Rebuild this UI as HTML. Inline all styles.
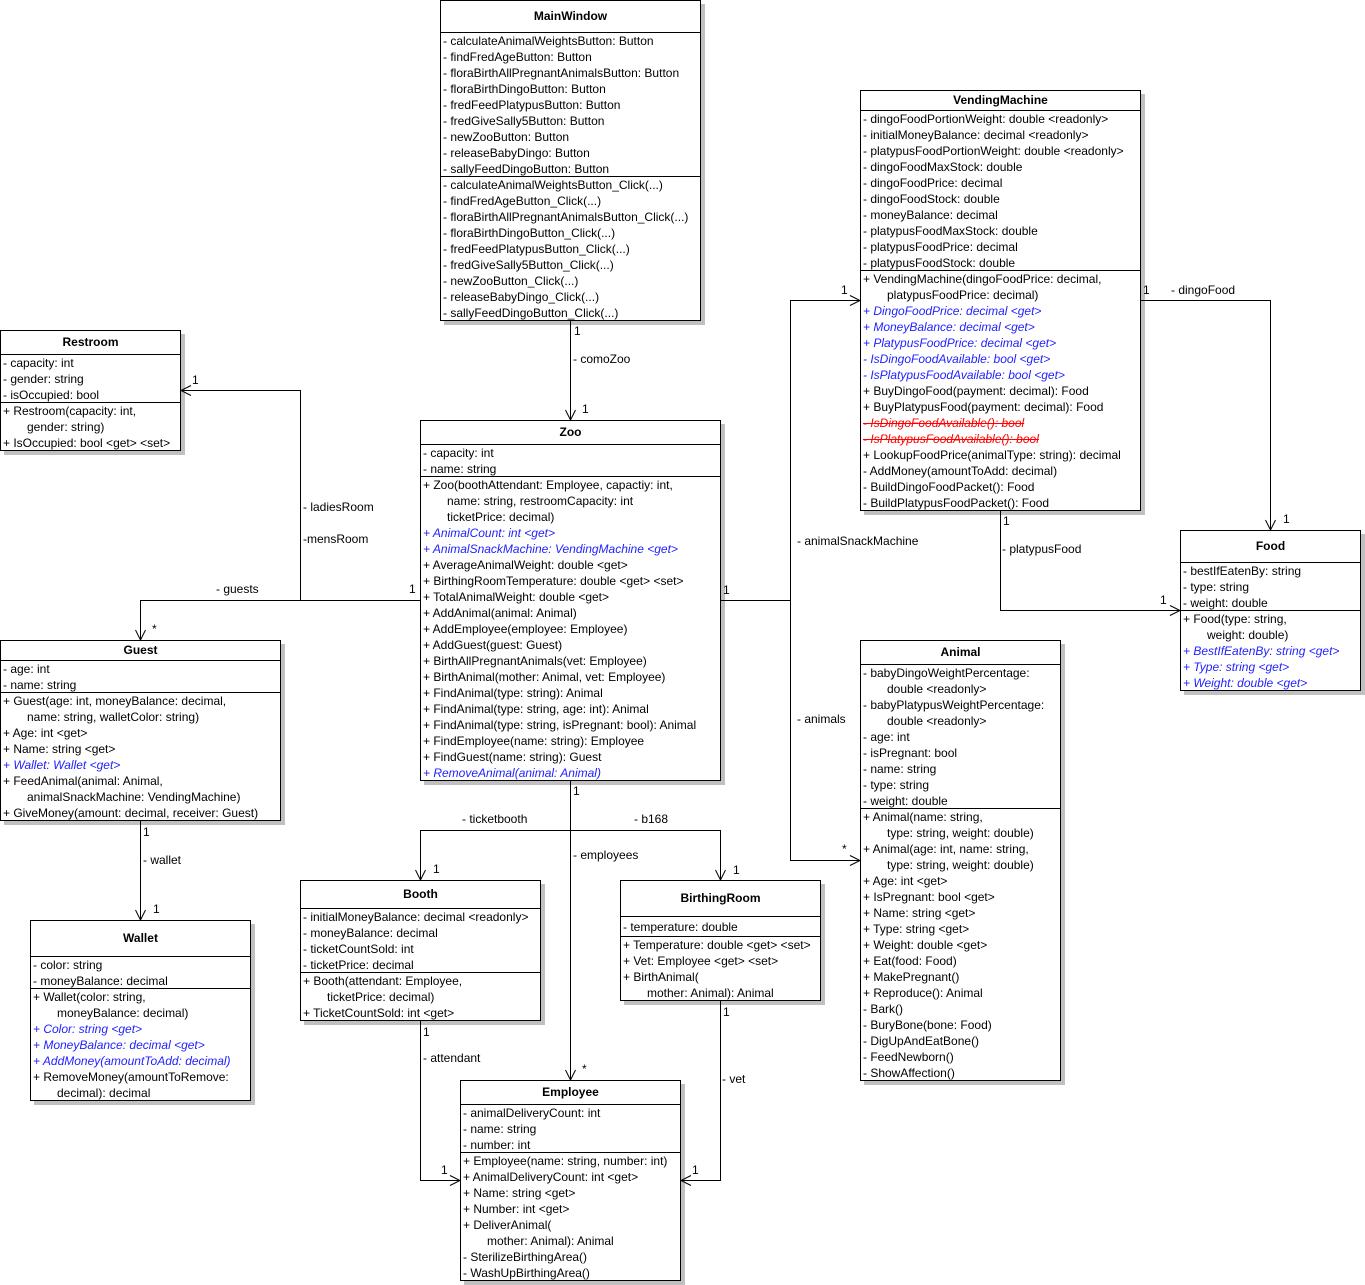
<!DOCTYPE html>
<html><head><meta charset="utf-8"><style>
html,body{margin:0;padding:0;background:#fff;}
body{width:1365px;height:1285px;position:relative;overflow:hidden;font:12px "Liberation Sans",Arial,sans-serif;color:#000;}
.b{position:absolute;background:#fff;border:1px solid #000;box-sizing:border-box;box-shadow:4px 4px 0 #c0c0c0;}
.h{font-weight:bold;text-align:center;box-sizing:border-box;}
.c{border-top:1px solid #000;box-sizing:border-box;padding-left:2px;overflow:hidden;}
.c div{height:16px;line-height:16px;white-space:nowrap;}
.c div.i{padding-left:24px;}
.bl{color:#1f1fff;font-style:italic;}
.st{color:#ff0000;font-style:italic;text-decoration:line-through;}
.l{position:absolute;line-height:16px;white-space:nowrap;}
svg{position:absolute;left:0;top:0;}
</style></head><body>

<!-- MainWindow -->
<div class="b" style="left:440px;top:0;width:261px;height:321px;">
<div class="h" style="height:31px;line-height:31px;">MainWindow</div>
<div class="c" style="height:144px;">
<div>- calculateAnimalWeightsButton: Button</div>
<div>- findFredAgeButton: Button</div>
<div>- floraBirthAllPregnantAnimalsButton: Button</div>
<div>- floraBirthDingoButton: Button</div>
<div>- fredFeedPlatypusButton: Button</div>
<div>- fredGiveSally5Button: Button</div>
<div>- newZooButton: Button</div>
<div>- releaseBabyDingo: Button</div>
<div>- sallyFeedDingoButton: Button</div>
</div>
<div class="c" style="height:144px;">
<div>- calculateAnimalWeightsButton_Click(...)</div>
<div>- findFredAgeButton_Click(...)</div>
<div>- floraBirthAllPregnantAnimalsButton_Click(...)</div>
<div>- floraBirthDingoButton_Click(...)</div>
<div>- fredFeedPlatypusButton_Click(...)</div>
<div>- fredGiveSally5Button_Click(...)</div>
<div>- newZooButton_Click(...)</div>
<div>- releaseBabyDingo_Click(...)</div>
<div>- sallyFeedDingoButton_Click(...)</div>
</div>
</div>

<!-- Restroom -->
<div class="b" style="left:0;top:330px;width:181px;height:121px;">
<div class="h" style="height:23px;line-height:23px;">Restroom</div>
<div class="c" style="height:48px;">
<div>- capacity: int</div>
<div>- gender: string</div>
<div>- isOccupied: bool</div>
</div>
<div class="c" style="height:48px;">
<div>+ Restroom(capacity: int,</div>
<div class="i">gender: string)</div>
<div>+ IsOccupied: bool &lt;get&gt; &lt;set&gt;</div>
</div>
</div>

<!-- Zoo -->
<div class="b" style="left:420px;top:420px;width:301px;height:361px;">
<div class="h" style="height:23px;line-height:23px;">Zoo</div>
<div class="c" style="height:32px;">
<div>- capacity: int</div>
<div>- name: string</div>
</div>
<div class="c" style="height:304px;">
<div>+ Zoo(boothAttendant: Employee, capactiy: int,</div>
<div class="i">name: string, restroomCapacity: int</div>
<div class="i">ticketPrice: decimal)</div>
<div class="bl">+ AnimalCount: int &lt;get&gt;</div>
<div class="bl">+ AnimalSnackMachine: VendingMachine &lt;get&gt;</div>
<div>+ AverageAnimalWeight: double &lt;get&gt;</div>
<div>+ BirthingRoomTemperature: double &lt;get&gt; &lt;set&gt;</div>
<div>+ TotalAnimalWeight: double &lt;get&gt;</div>
<div>+ AddAnimal(animal: Animal)</div>
<div>+ AddEmployee(employee: Employee)</div>
<div>+ AddGuest(guest: Guest)</div>
<div>+ BirthAllPregnantAnimals(vet: Employee)</div>
<div>+ BirthAnimal(mother: Animal, vet: Employee)</div>
<div>+ FindAnimal(type: string): Animal</div>
<div>+ FindAnimal(type: string, age: int): Animal</div>
<div>+ FindAnimal(type: string, isPregnant: bool): Animal</div>
<div>+ FindEmployee(name: string): Employee</div>
<div>+ FindGuest(name: string): Guest</div>
<div class="bl">+ RemoveAnimal(animal: Animal)</div>
</div>
</div>

<!-- VendingMachine -->
<div class="b" style="left:860px;top:90px;width:281px;height:421px;">
<div class="h" style="height:19px;line-height:19px;">VendingMachine</div>
<div class="c" style="height:160px;">
<div>- dingoFoodPortionWeight: double &lt;readonly&gt;</div>
<div>- initialMoneyBalance: decimal &lt;readonly&gt;</div>
<div>- platypusFoodPortionWeight: double &lt;readonly&gt;</div>
<div>- dingoFoodMaxStock: double</div>
<div>- dingoFoodPrice: decimal</div>
<div>- dingoFoodStock: double</div>
<div>- moneyBalance: decimal</div>
<div>- platypusFoodMaxStock: double</div>
<div>- platypusFoodPrice: decimal</div>
<div>- platypusFoodStock: double</div>
</div>
<div class="c" style="height:240px;">
<div>+ VendingMachine(dingoFoodPrice: decimal,</div>
<div class="i">platypusFoodPrice: decimal)</div>
<div class="bl">+ DingoFoodPrice: decimal &lt;get&gt;</div>
<div class="bl">+ MoneyBalance: decimal &lt;get&gt;</div>
<div class="bl">+ PlatypusFoodPrice: decimal &lt;get&gt;</div>
<div class="bl">- IsDingoFoodAvailable: bool &lt;get&gt;</div>
<div class="bl">- IsPlatypusFoodAvailable: bool &lt;get&gt;</div>
<div>+ BuyDingoFood(payment: decimal): Food</div>
<div>+ BuyPlatypusFood(payment: decimal): Food</div>
<div class="st">- IsDingoFoodAvailable(): bool</div>
<div class="st">- IsPlatypusFoodAvailable(): bool</div>
<div>+ LookupFoodPrice(animalType: string): decimal</div>
<div>- AddMoney(amountToAdd: decimal)</div>
<div>- BuildDingoFoodPacket(): Food</div>
<div>- BuildPlatypusFoodPacket(): Food</div>
</div>
</div>

<!-- Food -->
<div class="b" style="left:1180px;top:530px;width:181px;height:161px;">
<div class="h" style="height:31px;line-height:31px;">Food</div>
<div class="c" style="height:48px;">
<div>- bestIfEatenBy: string</div>
<div>- type: string</div>
<div>- weight: double</div>
</div>
<div class="c" style="height:80px;">
<div>+ Food(type: string,</div>
<div class="i">weight: double)</div>
<div class="bl">+ BestIfEatenBy: string &lt;get&gt;</div>
<div class="bl">+ Type: string &lt;get&gt;</div>
<div class="bl">+ Weight: double &lt;get&gt;</div>
</div>
</div>

<!-- Guest -->
<div class="b" style="left:0;top:640px;width:281px;height:181px;">
<div class="h" style="height:19px;line-height:19px;">Guest</div>
<div class="c" style="height:32px;">
<div>- age: int</div>
<div>- name: string</div>
</div>
<div class="c" style="height:128px;">
<div>+ Guest(age: int, moneyBalance: decimal,</div>
<div class="i">name: string, walletColor: string)</div>
<div>+ Age: int &lt;get&gt;</div>
<div>+ Name: string &lt;get&gt;</div>
<div class="bl">+ Wallet: Wallet &lt;get&gt;</div>
<div>+ FeedAnimal(animal: Animal,</div>
<div class="i">animalSnackMachine: VendingMachine)</div>
<div>+ GiveMoney(amount: decimal, receiver: Guest)</div>
</div>
</div>

<!-- Wallet -->
<div class="b" style="left:30px;top:920px;width:221px;height:181px;">
<div class="h" style="height:35px;line-height:35px;">Wallet</div>
<div class="c" style="height:32px;">
<div>- color: string</div>
<div>- moneyBalance: decimal</div>
</div>
<div class="c" style="height:112px;">
<div>+ Wallet(color: string,</div>
<div class="i">moneyBalance: decimal)</div>
<div class="bl">+ Color: string &lt;get&gt;</div>
<div class="bl">+ MoneyBalance: decimal &lt;get&gt;</div>
<div class="bl">+ AddMoney(amountToAdd: decimal)</div>
<div>+ RemoveMoney(amountToRemove:</div>
<div class="i">decimal): decimal</div>
</div>
</div>

<!-- Booth -->
<div class="b" style="left:300px;top:880px;width:241px;height:141px;">
<div class="h" style="height:27px;line-height:27px;">Booth</div>
<div class="c" style="height:64px;">
<div>- initialMoneyBalance: decimal &lt;readonly&gt;</div>
<div>- moneyBalance: decimal</div>
<div>- ticketCountSold: int</div>
<div>- ticketPrice: decimal</div>
</div>
<div class="c" style="height:48px;">
<div>+ Booth(attendant: Employee,</div>
<div class="i">ticketPrice: decimal)</div>
<div>+ TicketCountSold: int &lt;get&gt;</div>
</div>
</div>

<!-- BirthingRoom -->
<div class="b" style="left:620px;top:880px;width:201px;height:121px;">
<div class="h" style="height:35px;line-height:35px;">BirthingRoom</div>
<div class="c" style="height:20px;padding-top:2px;">
<div>- temperature: double</div>
</div>
<div class="c" style="height:64px;">
<div>+ Temperature: double &lt;get&gt; &lt;set&gt;</div>
<div>+ Vet: Employee &lt;get&gt; &lt;set&gt;</div>
<div>+ BirthAnimal(</div>
<div class="i">mother: Animal): Animal</div>
</div>
</div>

<!-- Animal -->
<div class="b" style="left:860px;top:640px;width:201px;height:441px;">
<div class="h" style="height:23px;line-height:23px;">Animal</div>
<div class="c" style="height:144px;">
<div>- babyDingoWeightPercentage:</div>
<div class="i">double &lt;readonly&gt;</div>
<div>- babyPlatypusWeightPercentage:</div>
<div class="i">double &lt;readonly&gt;</div>
<div>- age: int</div>
<div>- isPregnant: bool</div>
<div>- name: string</div>
<div>- type: string</div>
<div>- weight: double</div>
</div>
<div class="c" style="height:272px;">
<div>+ Animal(name: string,</div>
<div class="i">type: string, weight: double)</div>
<div>+ Animal(age: int, name: string,</div>
<div class="i">type: string, weight: double)</div>
<div>+ Age: int &lt;get&gt;</div>
<div>+ IsPregnant: bool &lt;get&gt;</div>
<div>+ Name: string &lt;get&gt;</div>
<div>+ Type: string &lt;get&gt;</div>
<div>+ Weight: double &lt;get&gt;</div>
<div>+ Eat(food: Food)</div>
<div>+ MakePregnant()</div>
<div>+ Reproduce(): Animal</div>
<div>- Bark()</div>
<div>- BuryBone(bone: Food)</div>
<div>- DigUpAndEatBone()</div>
<div>- FeedNewborn()</div>
<div>- ShowAffection()</div>
</div>
</div>

<!-- Employee -->
<div class="b" style="left:460px;top:1080px;width:221px;height:201px;">
<div class="h" style="height:23px;line-height:23px;">Employee</div>
<div class="c" style="height:48px;">
<div>- animalDeliveryCount: int</div>
<div>- name: string</div>
<div>- number: int</div>
</div>
<div class="c" style="height:128px;">
<div>+ Employee(name: string, number: int)</div>
<div>+ AnimalDeliveryCount: int &lt;get&gt;</div>
<div>+ Name: string &lt;get&gt;</div>
<div>+ Number: int &lt;get&gt;</div>
<div>+ DeliverAnimal(</div>
<div class="i">mother: Animal): Animal</div>
<div>- SterilizeBirthingArea()</div>
<div>- WashUpBirthingArea()</div>
</div>
</div>

<!-- Connectors -->
<svg width="1365" height="1285" viewBox="0 0 1365 1285">
<g fill="none" stroke="#000" stroke-width="1">
<path d="M570.5,321 V420"/>
<path d="M420,600.5 H300.5 V390.5 H181"/>
<path d="M300.5,600.5 H140.5 V640"/>
<path d="M140.5,821 V920"/>
<path d="M721,600.5 H790.5 V300.5 H860"/>
<path d="M790.5,600.5 V860.5 H860"/>
<path d="M1141,300.5 H1270.5 V530"/>
<path d="M1000.5,511 V610.5 H1180"/>
<path d="M570.5,781 V1080"/>
<path d="M570.5,830.5 H420.5 V880"/>
<path d="M570.5,830.5 H720.5 V880"/>
<path d="M420.5,1021 V1180.5 H460"/>
<path d="M720.5,1001 V1180.5 H681"/>
<!-- arrowheads -->
<path d="M565.5,410 L570.5,420 L575.5,410"/>
<path d="M191,385.5 L181,390.5 L191,395.5"/>
<path d="M135.5,630 L140.5,640 L145.5,630"/>
<path d="M135.5,910 L140.5,920 L145.5,910"/>
<path d="M850,295.5 L860,300.5 L850,305.5"/>
<path d="M850,855.5 L860,860.5 L850,865.5"/>
<path d="M1265.5,520 L1270.5,530 L1275.5,520"/>
<path d="M1170,605.5 L1180,610.5 L1170,615.5"/>
<path d="M565.5,1070 L570.5,1080 L575.5,1070"/>
<path d="M415.5,870 L420.5,880 L425.5,870"/>
<path d="M715.5,870 L720.5,880 L725.5,870"/>
<path d="M450,1175.5 L460,1180.5 L450,1185.5"/>
<path d="M691,1175.5 L681,1180.5 L691,1185.5"/>
</g>
</svg>

<!-- Labels -->
<div class="l" style="left:574px;top:323px;">1</div>
<div class="l" style="left:573px;top:351px;">- comoZoo</div>
<div class="l" style="left:582px;top:401px;">1</div>
<div class="l" style="left:192px;top:372px;">1</div>
<div class="l" style="left:303px;top:499px;">- ladiesRoom</div>
<div class="l" style="left:303px;top:531px;">-mensRoom</div>
<div class="l" style="left:216px;top:581px;">- guests</div>
<div class="l" style="left:409px;top:581px;">1</div>
<div class="l" style="left:152px;top:621px;">*</div>
<div class="l" style="left:143px;top:824px;">1</div>
<div class="l" style="left:143px;top:852px;">- wallet</div>
<div class="l" style="left:153px;top:901px;">1</div>
<div class="l" style="left:723px;top:582px;">1</div>
<div class="l" style="left:841px;top:282px;">1</div>
<div class="l" style="left:797px;top:533px;">- animalSnackMachine</div>
<div class="l" style="left:797px;top:711px;">- animals</div>
<div class="l" style="left:842px;top:841px;">*</div>
<div class="l" style="left:1143px;top:282px;">1</div>
<div class="l" style="left:1171px;top:282px;">- dingoFood</div>
<div class="l" style="left:1283px;top:511px;">1</div>
<div class="l" style="left:1003px;top:513px;">1</div>
<div class="l" style="left:1002px;top:541px;">- platypusFood</div>
<div class="l" style="left:1160px;top:592px;">1</div>
<div class="l" style="left:573px;top:783px;">1</div>
<div class="l" style="left:462px;top:811px;">- ticketbooth</div>
<div class="l" style="left:634px;top:811px;">- b168</div>
<div class="l" style="left:433px;top:861px;">1</div>
<div class="l" style="left:733px;top:862px;">1</div>
<div class="l" style="left:573px;top:847px;">- employees</div>
<div class="l" style="left:582px;top:1061px;">*</div>
<div class="l" style="left:423px;top:1024px;">1</div>
<div class="l" style="left:423px;top:1050px;">- attendant</div>
<div class="l" style="left:441px;top:1162px;">1</div>
<div class="l" style="left:723px;top:1004px;">1</div>
<div class="l" style="left:722px;top:1071px;">- vet</div>
<div class="l" style="left:692px;top:1162px;">1</div>

</body></html>
